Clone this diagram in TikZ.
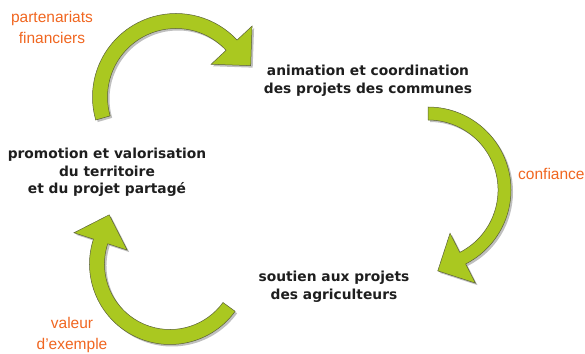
\documentclass[tikz,border=0pt]{standalone}
\usepackage{fontspec}
\setmainfont{Liberation Sans}
\newfontfamily\stepFont{DejaVu Sans}
\usetikzlibrary{shadows}
\definecolor{leafGreen}{RGB}{170,200,32}
\definecolor{edgeOlive}{RGB}{90,96,56}
\definecolor{labelOrange}{RGB}{240,102,32}
\definecolor{stepInk}{RGB}{30,30,30}
% #1 centre, #2 start angle, #3 end angle, #4 radius, #5 half width
\newcommand{\cycleArrow}[5]{%
  \begin{scope}[shift={(#1)}]
    \pgfmathsetmacro{\rOut}{#4+#5}
    \pgfmathsetmacro{\rIn}{#4-#5}
    \pgfmathsetmacro{\rHeadOut}{#4+28}
    \pgfmathsetmacro{\rHeadIn}{#4-28}
    \pgfmathsetmacro{\tipAngle}{#3-90}
    \draw[arrowStyle] (#2:\rOut) arc[start angle=#2, end angle=#3, radius=\rOut]
      -- (#3:\rHeadOut) -- ([shift={(\tipAngle:28)}]#3:#4) -- (#3:\rHeadIn)
      -- (#3:\rIn) arc[start angle=#3, end angle=#2, radius=\rIn] -- cycle;
  \end{scope}}
\begin{document}
\begin{tikzpicture}[x=1pt, y=1pt,
    arrowStyle/.style={fill=leafGreen, draw=edgeOlive, line width=0.5pt, line join=miter,
      drop shadow={shadow xshift=2pt, shadow yshift=-2pt, fill=black, opacity=0.25}},
    stepStyle/.style={align=center, text=stepInk, inner sep=0pt,
      font=\stepFont\bfseries\fontsize{13.8}{17.5}\selectfont},
    linkStyle/.style={align=center, text=labelOrange, inner sep=0pt,
      font=\fontsize{15.5}{21}\selectfont}]
  \useasboundingbox (0,0) rectangle (585,353);

  \coordinate (topArc)   at (176,256);
  \coordinate (rightArc) at (428,163);
  \coordinate (lowArc)   at (170,89);

  \cycleArrow{topArc}{196}{43}{76}{7.5}
  \cycleArrow{rightArc}{90}{-63}{76.5}{6.5}
  \cycleArrow{lowArc}{-36}{-198}{73}{7.5}

  \node[stepStyle] (animation) at (368,272)   {animation et coordination\\des projets des communes};
  \node[stepStyle] (promotion) at (107,180.5) {promotion et valorisation\\du territoire\\et du projet partagé};
  \node[stepStyle] (soutien)   at (334,66.5)  {soutien aux projets\\des agriculteurs};

  \node[linkStyle] (partenariats) at (52,326)  {partenariats\\financiers};
  \node[linkStyle, anchor=west] (confiance) at (518,179) {confiance};
  \node[linkStyle] (valeur) at (72,18.5) {valeur\\d’exemple};
\end{tikzpicture}
\end{document}
